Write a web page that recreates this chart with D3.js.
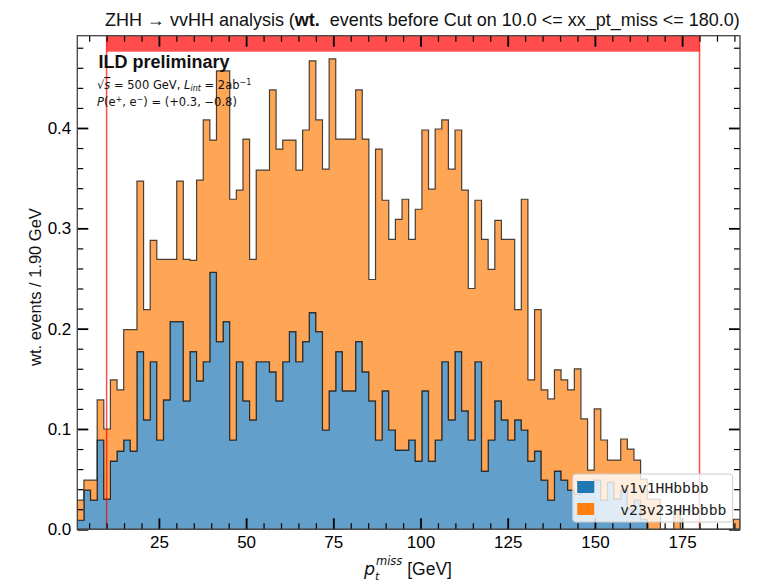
<!DOCTYPE html>
<html>
<head>
<meta charset="utf-8">
<script src="https://cdn.jsdelivr.net/npm/d3@7"></script>
<style>
  body { margin: 0; background: #fff; }
  svg { display: block; }
</style>
</head>
<body>
<script>
// Binning of the missing-pT histogram (100 bins of 1.90 GeV)
const binLow = 1.6;
const binWidth = 1.9;

// Weighted events per bin, one array per sample
const v1v1HHbbbb = [
  0.009, 0.039, 0.029, 0.089, 0.030, 0.068, 0.078, 0.089, 0.078, 0.177,
  0.109, 0.167, 0.089, 0.129, 0.207, 0.207, 0.128, 0.177, 0.148, 0.167,
  0.256, 0.187, 0.207, 0.089, 0.167, 0.128, 0.109, 0.167, 0.167, 0.157,
  0.128, 0.167, 0.197, 0.167, 0.187, 0.216, 0.197, 0.099, 0.138, 0.177,
  0.138, 0.138, 0.187, 0.157, 0.128, 0.089, 0.138, 0.099, 0.079, 0.079,
  0.089, 0.068, 0.138, 0.068, 0.089, 0.167, 0.109, 0.177, 0.118, 0.089,
  0.167, 0.058, 0.089, 0.128, 0.109, 0.089, 0.109, 0.099, 0.068, 0.078,
  0.049, 0.029, 0.058, 0.049, 0.039, 0.035, 0.039, 0.039, 0.049, 0.029,
  0.047, 0.030, 0.039, 0.020, 0.029, 0.010, 0.000, 0.000, 0.000, 0.000,
  0.000, 0.000, 0.000, 0.000, 0.000, 0.000, 0.000, 0.000, 0.000, 0.000
];
const v23v23HHbbbb = [
  0.020, 0.010, 0.020, 0.040, 0.070, 0.081, 0.061, 0.110, 0.121, 0.170,
  0.110, 0.121, 0.180, 0.140, 0.062, 0.140, 0.141, 0.091, 0.200, 0.241,
  0.132, 0.270, 0.250, 0.240, 0.171, 0.261, 0.160, 0.191, 0.191, 0.281,
  0.251, 0.221, 0.191, 0.191, 0.211, 0.251, 0.211, 0.260, 0.331, 0.212,
  0.251, 0.251, 0.251, 0.232, 0.121, 0.290, 0.190, 0.190, 0.230, 0.250,
  0.200, 0.251, 0.260, 0.271, 0.310, 0.241, 0.250, 0.221, 0.220, 0.151,
  0.161, 0.231, 0.170, 0.180, 0.180, 0.200, 0.110, 0.230, 0.081, 0.141,
  0.090, 0.101, 0.101, 0.100, 0.100, 0.125, 0.071, 0.020, 0.071, 0.060,
  0.022, 0.039, 0.051, 0.060, 0.040, 0.040, 0.030, 0.030, 0.000, 0.000,
  0.019, 0.000, 0.000, 0.000, 0.000, 0.000, 0.000, 0.000, 0.000, 0.010
];

const sampleNames = ["v1v1HHbbbb", "v23v23HHbbbb"];
const xMajorTicks = [25, 50, 75, 100, 125, 150, 175];
const yMajorTicks = [0.0, 0.1, 0.2, 0.3, 0.4];
const cutRange = [10.0, 180.0];

const W = 764, H = 587;
const plotLeft = 77.3, plotRight = 740, plotTop = 35.7, plotBottom = 529.3;

const sans = "'Liberation Sans', Arial, sans-serif";
const dv = "'DejaVu Sans', sans-serif";
const mono = "'DejaVu Sans Mono', monospace";

const fills = { v1v1HHbbbb: "#629fca", v23v23HHbbbb: "#ffa556" };
const patchColors = { v1v1HHbbbb: "#1f77b4", v23v23HHbbbb: "#ff7f0e" };

const svg = d3.select("body").append("svg").attr("width", W).attr("height", H);

const nBins = v1v1HHbbbb.length;
const x = d3.scaleLinear().domain([binLow, binLow + binWidth * nBins]).range([plotLeft, plotRight]);
const y = d3.scaleLinear().domain([0, 0.492]).range([plotBottom, plotTop]);

svg.append("clipPath").attr("id", "plot-clip")
  .append("rect").attr("x", plotLeft).attr("y", plotTop)
  .attr("width", plotRight - plotLeft).attr("height", plotBottom - plotTop);

// Stacked step histogram
const rows = d3.range(nBins).map(i => ({ v1v1HHbbbb: v1v1HHbbbb[i], v23v23HHbbbb: v23v23HHbbbb[i] }));
const stacked = d3.stack().keys(sampleNames)(rows);

const stepArea = d3.area()
  .curve(d3.curveStepAfter)
  .x((d, i) => x(binLow + i * binWidth))
  .y0(d => y(d[0]))
  .y1(d => y(d[1]));

const plot = svg.append("g").attr("clip-path", "url(#plot-clip)");
plot.selectAll("path.layer")
  .data(stacked)
  .join("path")
  .attr("class", "layer")
  .attr("d", s => stepArea([...s, s[s.length - 1]]))
  .attr("fill", s => fills[s.key])
  .attr("stroke", "#1a1a1a")
  .attr("stroke-opacity", 0.8)
  .attr("stroke-width", 1.2)
  .attr("stroke-linejoin", "miter");

// Cut window: vertical lines and band along the top
plot.selectAll("line.cut")
  .data(cutRange)
  .join("line")
  .attr("class", "cut")
  .attr("x1", d => x(d)).attr("x2", d => x(d))
  .attr("y1", plotTop).attr("y2", plotBottom)
  .attr("stroke", "#ff0000").attr("stroke-opacity", 0.7).attr("stroke-width", 1.5);

plot.append("rect")
  .attr("x", x(cutRange[0])).attr("width", x(cutRange[1]) - x(cutRange[0]))
  .attr("y", plotTop).attr("height", 16)
  .attr("fill", "#ff0000").attr("fill-opacity", 0.7);

// Ticks on all four sides, pointing inward
function ticksGroup(axisGen, transform) {
  const g = svg.append("g").attr("transform", transform).call(axisGen);
  g.select(".domain").remove();
  return g;
}
const xMinor = d3.range(5, 191, 5).filter(v => v % 25 !== 0);
const yMinor = d3.range(0, 0.49, 0.02).filter(v => Math.abs(v * 10 - Math.round(v * 10)) > 1e-6);

const styleTicks = (g, w) => g.selectAll(".tick line").attr("stroke", "#000").attr("stroke-width", w);
const styleLabels = g => g.selectAll("text").attr("fill", "#000")
  .style("font-size", "17px").style("font-family", sans);

// bottom
let g = ticksGroup(d3.axisBottom(x).tickValues(xMajorTicks).tickSize(-11).tickPadding(7).tickFormat(d3.format("d")), `translate(0,${plotBottom})`);
styleTicks(g, 1.8); styleLabels(g);
g = ticksGroup(d3.axisBottom(x).tickValues(xMinor).tickSize(-6).tickFormat(""), `translate(0,${plotBottom})`);
styleTicks(g, 1.2);
// top
g = ticksGroup(d3.axisTop(x).tickValues(xMajorTicks).tickSize(-11).tickFormat(""), `translate(0,${plotTop})`);
styleTicks(g, 1.8);
g = ticksGroup(d3.axisTop(x).tickValues(xMinor).tickSize(-6).tickFormat(""), `translate(0,${plotTop})`);
styleTicks(g, 1.2);
// left
g = ticksGroup(d3.axisLeft(y).tickValues(yMajorTicks).tickSize(-11).tickPadding(6).tickFormat(d3.format(".1f")), `translate(${plotLeft},0)`);
styleTicks(g, 1.8); styleLabels(g);
g = ticksGroup(d3.axisLeft(y).tickValues(yMinor).tickSize(-6).tickFormat(""), `translate(${plotLeft},0)`);
styleTicks(g, 1.2);
// right
g = ticksGroup(d3.axisRight(y).tickValues(yMajorTicks).tickSize(-11).tickFormat(""), `translate(${plotRight},0)`);
styleTicks(g, 1.8);
g = ticksGroup(d3.axisRight(y).tickValues(yMinor).tickSize(-6).tickFormat(""), `translate(${plotRight},0)`);
styleTicks(g, 1.2);

// Frame
svg.append("rect")
  .attr("x", plotLeft).attr("y", plotTop).attr("width", plotRight - plotLeft).attr("height", plotBottom - plotTop)
  .attr("fill", "none").attr("stroke", "#444").attr("stroke-width", 1.3);

// Legend
const legend = svg.append("g").attr("transform", "translate(572.7,474)");
legend.append("rect")
  .attr("width", 160).attr("height", 48).attr("rx", 3)
  .attr("fill", "#fff").attr("fill-opacity", 0.8)
  .attr("stroke", "#cccccc").attr("stroke-width", 1);
sampleNames.forEach((name, i) => {
  legend.append("rect")
    .attr("x", 4.5).attr("y", 7 + i * 22).attr("width", 17).attr("height", 12)
    .attr("fill", patchColors[name]);
  legend.append("text")
    .attr("x", 47.5).attr("y", 18.6 + i * 22)
    .style("font-family", mono)
    .style("font-size", "14.7px")
    .attr("fill", "#222")
    .text(name);
});

// Title
const title = svg.append("text").attr("x", 105).attr("y", 26)
  .style("font-family", sans).style("font-size", "16.5px").style("white-space", "pre")
  .attr("fill", "#111");
title.append("tspan").text("ZHH \u2192 vvHH analysis (");
title.append("tspan").attr("font-weight", "bold").text("wt.");
title.append("tspan").text("  events before Cut on 10.0 <= xx_pt_miss <= 180.0)");
{
  const len = title.node().getComputedTextLength();
  title.style("font-size", (16.5 * 635 / len) + "px");
}

// Axis titles
svg.append("text")
  .attr("transform", "translate(41,287) rotate(-90)")
  .attr("text-anchor", "middle")
  .style("font-family", sans).style("font-size", "16.5px").attr("fill", "#111")
  .text("wt. events / 1.90 GeV");

const xl = svg.append("text").attr("x", 364).attr("y", 575)
  .style("font-family", sans).style("font-size", "17.5px").attr("fill", "#111");
xl.append("tspan").attr("font-style", "italic").style("font-family", dv).text("p");
xl.append("tspan").attr("font-style", "italic").style("font-family", dv).style("font-size", "11px").attr("dy", 5).text("t");
xl.append("tspan").attr("font-style", "italic").style("font-family", dv).style("font-size", "11.5px").attr("dx", -3.5).attr("dy", -15).text("miss");
xl.append("tspan").attr("dy", 10).text(" [GeV]");

// Experiment labels
svg.append("text").attr("x", 98.5).attr("y", 68.3)
  .style("font-family", sans).attr("font-weight", "bold").style("font-size", "18px").attr("fill", "#111")
  .text("ILD preliminary");

const l1 = svg.append("text").attr("x", 97).attr("y", 89)
  .style("font-family", dv).style("font-size", "11.5px").attr("fill", "#111");
l1.append("tspan").text("\u221a");
l1.append("tspan").attr("font-style", "italic").style("text-decoration", "overline").text("s");
l1.append("tspan").text(" = 500 GeV, ");
l1.append("tspan").attr("font-style", "italic").text("L");
l1.append("tspan").attr("font-style", "italic").style("font-size", "8px").attr("dy", 2).text("int");
l1.append("tspan").attr("dy", -2).text(" = 2ab");
l1.append("tspan").style("font-size", "8px").attr("dy", -4.5).text("\u22121");

const l2 = svg.append("text").attr("x", 97).attr("y", 106)
  .style("font-family", dv).style("font-size", "11.5px").attr("fill", "#111");
l2.append("tspan").attr("font-style", "italic").text("P");
l2.append("tspan").text("(e");
l2.append("tspan").style("font-size", "8px").attr("dy", -4.5).text("+");
l2.append("tspan").attr("dy", 4.5).text(", e");
l2.append("tspan").style("font-size", "8px").attr("dy", -4.5).text("\u2212");
l2.append("tspan").attr("dy", 4.5).text(") = (+0.3, \u22120.8)");
</script>
</body>
</html>
